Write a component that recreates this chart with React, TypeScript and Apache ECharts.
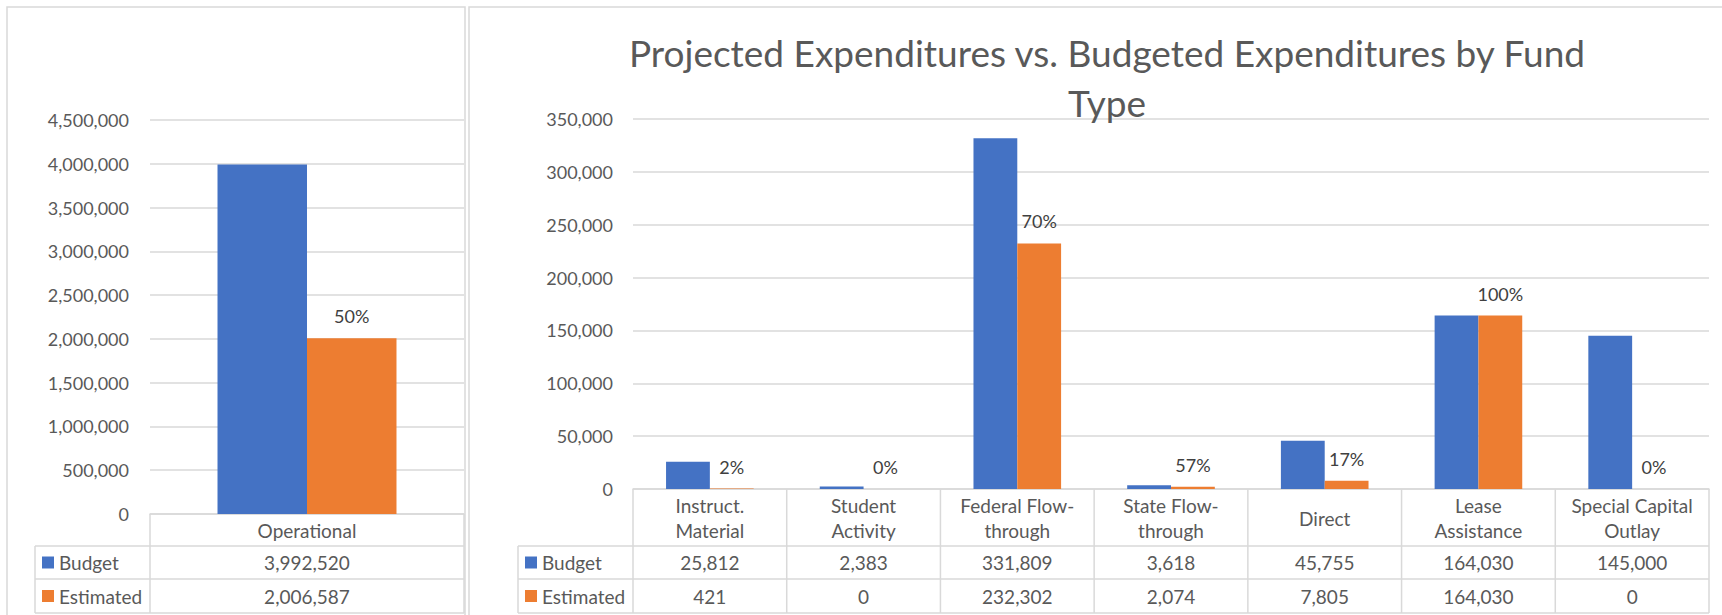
import React, { useEffect, useRef } from "react";
import * as echarts from "echarts";

// ---- data ----
const seriesNames = ["Budget", "Estimated"];
const leftCategories = ["Operational"];
const leftBudget = [3992520];
const leftEstimated = [2006587];
const rightCategories = [
  "Instruct.\nMaterial",
  "Student\nActivity",
  "Federal Flow-\nthrough",
  "State Flow-\nthrough",
  "Direct",
  "Lease\nAssistance",
  "Special Capital\nOutlay",
];
const rightBudget = [25812, 2383, 331809, 3618, 45755, 164030, 145000];
const rightEstimated = [421, 0, 232302, 2074, 7805, 164030, 0];
const leftAxisMax = 4500000;
const leftAxisStep = 500000;
const rightAxisMax = 350000;
const rightAxisStep = 50000;
const titleText = "Projected Expenditures vs. Budgeted Expenditures by Fund\nType";

// ---- style / layout ----
const FONT = "Lato";
const BLUE = "#4472C4";
const ORANGE = "#ED7D31";
const TXT = "#595959";
const LBL = "#404040";
const LINE = "#d9d9d9";

const L = { left: 150, top: 120, width: 314, bottom: 514 };
const R = { left: 633, top: 119, width: 1076, bottom: 489 };
const ROW1 = 546;
const ROW2 = 579;
const ROW3 = 613;
const TABLE_FS = 19;

const fmt = (v: number) => v.toLocaleString("en-US");

function buildTable(
  g: typeof L,
  legendLeft: number,
  cats: string[],
  budget: number[],
  est: number[]
) {
  const els: any[] = [];
  const n = cats.length;
  const cw = g.width / n;
  const right = g.left + g.width;
  const hline = (x1: number, x2: number, y: number) =>
    els.push({ type: "line", shape: { x1, y1: y, x2, y2: y }, style: { stroke: LINE, lineWidth: 1.5 }, z: 5 });
  const vline = (x: number, y1: number, y2: number) =>
    els.push({ type: "line", shape: { x1: x, y1, x2: x, y2 }, style: { stroke: LINE, lineWidth: 1.5 }, z: 5 });
  hline(legendLeft, right, ROW1);
  hline(legendLeft, right, ROW2);
  hline(legendLeft, right, ROW3);
  vline(legendLeft, ROW1, ROW3);
  for (let i = 0; i <= n; i++) vline(g.left + i * cw, g.bottom, ROW3);
  const rows = [budget, est];
  const colors = [BLUE, ORANGE];
  const ys = [ROW1, ROW2];
  rows.forEach((vals, r) => {
    const yc = (ys[r] + (r === 0 ? ROW2 : ROW3)) / 2;
    els.push({ type: "rect", shape: { x: legendLeft + 7, y: yc - 6, width: 12, height: 12 }, style: { fill: colors[r] }, z: 6 });
    els.push({
      type: "text",
      x: legendLeft + 24,
      y: yc,
      style: { text: seriesNames[r], font: `${TABLE_FS}px ${FONT}`, fill: TXT, verticalAlign: "middle", align: "left" },
      z: 6,
    });
    vals.forEach((v, i) => {
      els.push({
        type: "text",
        x: g.left + (i + 0.5) * cw,
        y: yc,
        style: { text: fmt(v), font: `${TABLE_FS}px ${FONT}`, fill: TXT, verticalAlign: "middle", align: "center" },
        z: 6,
      });
    });
  });
  return els;
}

export default function App() {
  const ref = useRef<HTMLDivElement>(null);
  useEffect(() => {
    if (!ref.current) return;
    const chart = echarts.init(ref.current, null, { renderer: "svg" });
    const pct = (e: number[], b: number[]) => (p: any) =>
      Math.round((e[p.dataIndex] / b[p.dataIndex]) * 100) + "%";
    const axisLabel = { color: TXT, fontSize: 18, fontFamily: FONT };
    const xAxisCommon = {
      type: "category" as const,
      axisLine: { show: true, lineStyle: { color: LINE, width: 1.5 } },
      axisTick: { show: false },
    };
    const yAxisCommon = {
      type: "value" as const,
      min: 0,
      axisLine: { show: false },
      axisTick: { show: false },
      splitLine: { show: true, lineStyle: { color: LINE, width: 1.5 } },
    };
    const barLabel = (e: number[], b: number[]) => ({
      show: true,
      position: "top" as const,
      distance: 13,
      color: LBL,
      fontSize: 18,
      fontFamily: FONT,
      lineHeight: 18,
      formatter: pct(e, b),
    });
    chart.setOption({
      animation: false,
      backgroundColor: "#ffffff",
      title: {
        text: titleText,
        left: 1102,
        top: 22,
        textAlign: "center",
        textStyle: { fontFamily: FONT, fontSize: 37, fontWeight: "normal", color: TXT, lineHeight: 50 },
      },
      grid: [
        { left: L.left, top: L.top, width: L.width, height: L.bottom - L.top },
        { left: R.left, top: R.top, width: R.width, height: R.bottom - R.top },
      ],
      xAxis: [
        {
          ...xAxisCommon,
          gridIndex: 0,
          data: leftCategories,
          axisLabel: { ...axisLabel, fontSize: TABLE_FS, verticalAlign: "middle", margin: 16, lineHeight: 25 },
        },
        {
          ...xAxisCommon,
          gridIndex: 1,
          data: rightCategories,
          axisLabel: { ...axisLabel, fontSize: TABLE_FS, verticalAlign: "middle", margin: 29, lineHeight: 25, interval: 0 },
        },
      ],
      yAxis: [
        {
          ...yAxisCommon,
          gridIndex: 0,
          max: leftAxisMax,
          interval: leftAxisStep,
          axisLabel: { ...axisLabel, margin: 21, formatter: (v: number) => fmt(v) },
        },
        {
          ...yAxisCommon,
          gridIndex: 1,
          max: rightAxisMax,
          interval: rightAxisStep,
          axisLabel: { ...axisLabel, margin: 20, formatter: (v: number) => fmt(v) },
        },
      ],
      series: [
        {
          name: seriesNames[0], type: "bar", xAxisIndex: 0, yAxisIndex: 0, data: leftBudget,
          itemStyle: { color: BLUE }, barGap: "0%", barCategoryGap: "43%",
        },
        {
          name: seriesNames[1], type: "bar", xAxisIndex: 0, yAxisIndex: 0, data: leftEstimated,
          itemStyle: { color: ORANGE }, barGap: "0%", barCategoryGap: "43%",
          label: barLabel(leftEstimated, leftBudget),
        },
        {
          name: seriesNames[0], type: "bar", xAxisIndex: 1, yAxisIndex: 1, data: rightBudget,
          itemStyle: { color: BLUE }, barGap: "0%", barCategoryGap: "43%",
        },
        {
          name: seriesNames[1], type: "bar", xAxisIndex: 1, yAxisIndex: 1, data: rightEstimated,
          itemStyle: { color: ORANGE }, barGap: "0%", barCategoryGap: "43%",
          label: barLabel(rightEstimated, rightBudget),
        },
      ],
      graphic: [
        { type: "rect", shape: { x: 7, y: 7, width: 458, height: 700 }, style: { fill: "none", stroke: LINE, lineWidth: 1.5 }, z: 1 },
        { type: "rect", shape: { x: 469, y: 7, width: 1400, height: 700 }, style: { fill: "none", stroke: LINE, lineWidth: 1.5 }, z: 1 },
        ...buildTable(L, 35, leftCategories, leftBudget, leftEstimated),
        ...buildTable(R, 518, rightCategories, rightBudget, rightEstimated),
      ],
    });
    return () => chart.dispose();
  }, []);
  return (
    <div
      ref={ref}
      style={{ position: "absolute", left: 0, top: 0, width: 1722, height: 615, background: "#fff" }}
    />
  );
}
